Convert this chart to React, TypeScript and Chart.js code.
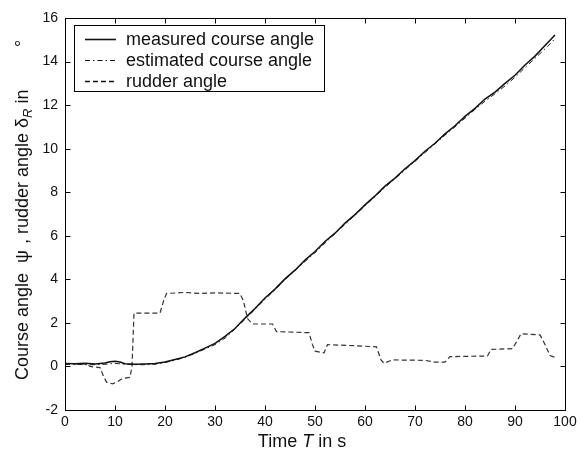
import React, { useEffect, useRef } from "react";
import { Chart, registerables } from "chart.js";

Chart.register(...registerables);

// ---- data ----
const courseTime = [0, 2, 4, 6, 8, 9, 10, 11, 12, 14, 16, 18, 20, 22, 24, 26, 28, 30, 32, 34, 36, 38, 40, 42, 44, 46, 48, 50, 52, 54, 56, 58, 60, 62, 64, 66, 68, 70, 72, 74, 76, 78, 80, 82, 84, 86, 88, 90, 92, 94, 96, 98];
const measuredCourse = [0.14, 0.12, 0.15, 0.11, 0.16, 0.22, 0.24, 0.2, 0.12, 0.1, 0.11, 0.13, 0.2, 0.32, 0.44, 0.63, 0.84, 1.06, 1.38, 1.74, 2.22, 2.66, 3.14, 3.55, 4.02, 4.42, 4.88, 5.28, 5.74, 6.12, 6.58, 6.97, 7.42, 7.83, 8.28, 8.65, 9.08, 9.45, 9.88, 10.25, 10.68, 11.05, 11.48, 11.85, 12.28, 12.6, 13.0, 13.37, 13.84, 14.25, 14.74, 15.22];
const estimatedCourse = [0.1, 0.1, 0.08, 0.08, 0.1, 0.12, 0.14, 0.12, 0.1, 0.08, 0.08, 0.1, 0.18, 0.28, 0.42, 0.6, 0.8, 1.0, 1.3, 1.72, 2.16, 2.62, 3.08, 3.52, 3.98, 4.4, 4.82, 5.22, 5.66, 6.1, 6.52, 6.95, 7.38, 7.8, 8.22, 8.62, 9.02, 9.42, 9.82, 10.22, 10.62, 11.0, 11.4, 11.8, 12.18, 12.52, 12.88, 13.28, 13.72, 14.15, 14.58, 15.05];
const rudderTime = [0, 4.3, 5, 7, 7.7, 8.3, 9.5, 10.5, 11.5, 13, 13.4, 13.8, 19, 19.7, 20.3, 24, 27, 30, 35, 35.7, 36.5, 37.5, 41.5, 42.3, 48.8, 49.5, 50, 51.8, 52.5, 58, 62.3, 63.2, 63.8, 65.5, 72, 74, 76, 77, 84.5, 85.2, 89.5, 90.5, 91.2, 95, 95.8, 97, 98];
const rudderAngle = [0.12, 0.12, 0.0, -0.05, -0.45, -0.72, -0.8, -0.7, -0.55, -0.5, 0.0, 2.45, 2.45, 3.0, 3.35, 3.4, 3.35, 3.38, 3.35, 3.0, 2.2, 1.95, 1.95, 1.6, 1.55, 1.0, 0.7, 0.62, 1.0, 0.95, 0.9, 0.3, 0.15, 0.3, 0.28, 0.2, 0.2, 0.45, 0.48, 0.78, 0.82, 1.2, 1.5, 1.45, 1.1, 0.5, 0.42];
const xTicks = [0, 10, 20, 30, 40, 50, 60, 70, 80, 90, 100];
const yTicks = [-2, 0, 2, 4, 6, 8, 10, 12, 14, 16];
const legendLabels = ["measured course angle", "estimated course angle", "rudder angle"];

const FONT = '"Liberation Sans", Arial, Helvetica, sans-serif';
const DASH_DOT = [5, 3, 1.5, 3];
const DASHED = [5, 3];

const framePlugin = {
  id: "frame",
  afterDraw(chart: any) {
    const { ctx, chartArea: a, scales } = chart;
    const xs = scales.x;
    const ys = scales.y;
    ctx.save();
    ctx.strokeStyle = "#000";
    ctx.lineWidth = 1;
    ctx.setLineDash([]);
    const L = Math.round(a.left) + 0.5;
    const R = Math.round(a.right) + 0.5;
    const T = Math.round(a.top) + 0.5;
    const B = Math.round(a.bottom) + 0.5;
    ctx.strokeRect(L, T, R - L, B - T);
    ctx.beginPath();
    xTicks.forEach((v) => {
      const px = Math.round(xs.getPixelForValue(v)) + 0.5;
      ctx.moveTo(px, B);
      ctx.lineTo(px, B - 5);
      ctx.moveTo(px, T);
      ctx.lineTo(px, T + 5);
    });
    yTicks.forEach((v) => {
      const py = Math.round(ys.getPixelForValue(v)) + 0.5;
      ctx.moveTo(L, py);
      ctx.lineTo(L + 5, py);
      ctx.moveTo(R, py);
      ctx.lineTo(R - 5, py);
    });
    ctx.stroke();

    // legend
    const bx = 74.5, by = 25.5, bw = 250, bh = 66;
    ctx.fillStyle = "#fff";
    ctx.fillRect(bx, by, bw, bh);
    ctx.strokeRect(bx, by, bw, bh);
    const rowsY = [39.5, 60.5, 81.5];
    const dashes = [[], DASH_DOT, DASHED];
    const widths = [1.6, 1.1, 1.3];
    ctx.font = `18px ${FONT}`;
    ctx.textBaseline = "middle";
    ctx.textAlign = "left";
    legendLabels.forEach((lab, i) => {
      ctx.beginPath();
      ctx.setLineDash(dashes[i]);
      ctx.lineWidth = widths[i];
      ctx.strokeStyle = "#111";
      ctx.moveTo(85, rowsY[i]);
      ctx.lineTo(116, rowsY[i]);
      ctx.stroke();
      ctx.setLineDash([]);
      ctx.fillStyle = "#111";
      ctx.fillText(lab, 126, rowsY[i] + 1);
    });

    // x title: "Time T in s"
    ctx.fillStyle = "#111";
    ctx.textBaseline = "alphabetic";
    const xParts: [string, string][] = [
      ["Time ", `18px ${FONT}`],
      ["T", `italic 18px ${FONT}`],
      [" in s", `18px ${FONT}`],
    ];
    let tw = 0;
    xParts.forEach(([s, f]) => { ctx.font = f; tw += ctx.measureText(s).width; });
    let cx = 302 - tw / 2;
    xParts.forEach(([s, f]) => { ctx.font = f; ctx.fillText(s, cx, 447); cx += ctx.measureText(s).width; });

    // y title (rotated); start positions are page-y values (text runs upward)
    ctx.save();
    ctx.translate(28, 0);
    ctx.rotate(-Math.PI / 2);
    const f18 = `18px ${FONT}`;
    ctx.font = f18;
    ctx.fillText("Course angle", -380, 0);
    ctx.fillText("\u03C8", -263, 0);
    ctx.fillText(", rudder angle \u03B4", -244, 0);
    let cy = -244 + ctx.measureText(", rudder angle \u03B4").width;
    ctx.font = `italic 13px ${FONT}`;
    ctx.fillText("R", cy, 4);
    cy += ctx.measureText("R").width;
    ctx.font = f18;
    ctx.fillText(" in", cy, 0);
    ctx.fillText("\u00B0", -47, 0);
    ctx.restore();

    ctx.restore();
  },
};

export default function App() {
  const ref = useRef<HTMLCanvasElement | null>(null);
  useEffect(() => {
    document.body.style.margin = "0";
    const canvas = ref.current;
    if (!canvas) return;
    const chart = new Chart(canvas, {
      type: "line",
      data: {
        datasets: [
          {
            label: legendLabels[0],
            data: courseTime.map((t, i) => ({ x: t, y: measuredCourse[i] })),
            borderColor: "#111",
            borderWidth: 1.5,
            pointRadius: 0,
            tension: 0,
          },
          {
            label: legendLabels[1],
            data: courseTime.map((t, i) => ({ x: t, y: estimatedCourse[i] })),
            borderColor: "#222",
            borderWidth: 1,
            borderDash: DASH_DOT,
            pointRadius: 0,
            tension: 0,
          },
          {
            label: legendLabels[2],
            data: rudderTime.map((t, i) => ({ x: t, y: rudderAngle[i] })),
            borderColor: "#333",
            borderWidth: 1.2,
            borderDash: DASHED,
            pointRadius: 0,
            tension: 0,
          },
        ],
      },
      options: {
        responsive: false,
        animation: false,
        devicePixelRatio: 1,
        layout: { padding: { top: 18, right: 21, left: 0, bottom: 0 } },
        plugins: {
          legend: { display: false },
          tooltip: { enabled: false },
          title: { display: false },
        },
        scales: {
          x: {
            type: "linear",
            min: 0,
            max: 100,
            afterBuildTicks: (s: any) => { s.ticks = xTicks.map((v) => ({ value: v })); },
            afterFit: (s: any) => { s.height = 42; },
            grid: { display: false, drawTicks: false },
            border: { display: false },
            ticks: { color: "#111", font: { family: FONT, size: 14 }, padding: 4, maxRotation: 0, autoSkip: false },
          },
          y: {
            type: "linear",
            min: -2,
            max: 16,
            afterBuildTicks: (s: any) => { s.ticks = yTicks.map((v) => ({ value: v })); },
            afterFit: (s: any) => { s.width = 65; },
            grid: { display: false, drawTicks: false },
            border: { display: false },
            ticks: { color: "#111", font: { family: FONT, size: 14 }, padding: 7, autoSkip: false },
          },
        },
      },
      plugins: [framePlugin],
    });
    return () => chart.destroy();
  }, []);
  return (
    <div style={{ width: 586, height: 452, background: "#fff" }}>
      <canvas ref={ref} width={586} height={452} style={{ display: "block" }} />
    </div>
  );
}
